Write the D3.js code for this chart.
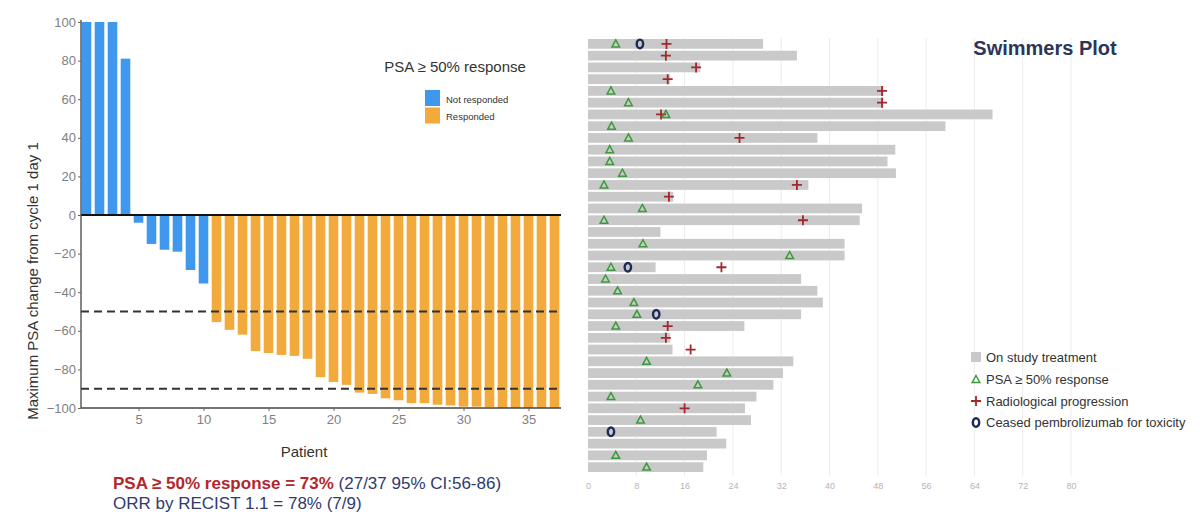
<!DOCTYPE html>
<html>
<head>
<meta charset="utf-8">
<script src="https://cdn.jsdelivr.net/npm/d3@7"></script>
<style>
  body { margin: 0; background: #fff; }
  svg { font-family: "Liberation Sans", Arial, sans-serif; }
</style>
</head>
<body>
<div id="chart"></div>
<script>
// ---- waterfall data (patient 1..37) ----
var psaChange = [100, 100, 100, 81, -4, -15, -18, -19, -28.5, -35.5,
  -55.5, -59.5, -62, -70.5, -71.5, -72.5, -73, -74.5, -84, -86.5,
  -88, -92, -92.7, -95, -96, -97.5, -97.5, -98.3, -98.7, -99.3,
  -99.3, -99.5, -100, -100, -100, -100, -100];
var yTicks = [100, 80, 60, 40, 20, 0, -20, -40, -60, -80, -100];
var xTicks = [5, 10, 15, 20, 25, 30, 35];
var thresholds = [-50, -90];
var groups = ["Not responded", "Responded"];
var groupColors = ["#3F97EE", "#F1AA3B"];

// ---- swimmer data (rows top to bottom) ----
var months = [29, 34.6, 18.6, 13.6, 48.9, 48.9, 67, 59.2, 38, 50.9,
  49.6, 51, 36.5, 14.1, 45.4, 45, 12, 42.5, 42.5, 11.2,
  35.3, 38, 38.9, 35.3, 25.9, 13.6, 14, 34, 32.3, 30.7,
  27.9, 26, 27, 21.3, 22.9, 19.7, 19.1];
var psaResponse = [[1, 4.6], [5, 3.8], [6, 6.7], [7, 12.9], [8, 3.9], [9, 6.7], [10, 3.6], [11, 3.6],
  [12, 5.7], [13, 2.65], [15, 9], [16, 2.65], [18, 9.1], [19, 33.4], [20, 3.8], [21, 2.9],
  [22, 4.9], [23, 7.6], [24, 8.1], [25, 4.6], [28, 9.7], [29, 23], [30, 18.2], [31, 3.8],
  [33, 8.7], [36, 4.6], [37, 9.7]];
var progression = [[1, 13], [2, 12.9], [3, 17.9], [4, 13.2], [5, 48.7], [6, 48.7], [7, 12.1],
  [9, 25.1], [13, 34.6], [14, 13.4], [16, 35.6], [20, 22.1], [25, 13.2], [26, 12.9],
  [27, 17], [32, 16]];
var toxicity = [[1, 8.6], [20, 6.6], [24, 11.3], [34, 3.8]];
var swimTicks = [0, 8, 16, 24, 32, 40, 48, 56, 64, 72, 80];
var swimLegend = ["On study treatment", "PSA \u2265 50% response", "Radiological progression", "Ceased pembrolizumab for toxicity"];

var svg = d3.select("#chart").append("svg")
  .attr("width", 1200)
  .attr("height", 528);

// ================= waterfall =================
var patients = d3.range(1, psaChange.length + 1);
var x = d3.scaleLinear().domain([0.5, 37.5]).range([80, 561]);
var y = d3.scaleLinear().domain([-100, 100]).range([408, 22]);
var color = d3.scaleOrdinal().domain(groups).range(groupColors);

var left = svg.append("g");

left.selectAll("rect.bar")
  .data(patients)
  .enter()
  .append("rect")
  .attr("class", "bar")
  .attr("x", d => x(d) - 4.8)
  .attr("width", 9.6)
  .attr("y", d => y(Math.max(0, psaChange[d - 1])))
  .attr("height", d => Math.abs(y(psaChange[d - 1]) - y(0)))
  .attr("fill", d => color(psaChange[d - 1] <= -50 ? groups[1] : groups[0]));

// dashed threshold lines
left.selectAll("line.thr")
  .data(thresholds)
  .enter()
  .append("line")
  .attr("x1", 81).attr("x2", 561)
  .attr("y1", d => y(d)).attr("y2", d => y(d))
  .attr("stroke", "#333")
  .attr("stroke-width", 2)
  .attr("stroke-dasharray", "8,5");

// zero line
left.append("line")
  .attr("x1", 81).attr("x2", 561)
  .attr("y1", y(0)).attr("y2", y(0))
  .attr("stroke", "#111").attr("stroke-width", 2);

// axes
var yAxis = left.append("g")
  .attr("transform", "translate(81,0)")
  .call(d3.axisLeft(y).tickValues(yTicks).tickSize(3).tickPadding(2));
var xAxis = left.append("g")
  .attr("transform", "translate(0,408)")
  .call(d3.axisBottom(x).tickValues(xTicks).tickSize(3).tickPadding(4));

[yAxis, xAxis].forEach(function(ax) {
  ax.select(".domain").attr("stroke", "#444").attr("stroke-width", 1.3);
  ax.selectAll(".tick line").attr("stroke", "#666");
  ax.selectAll(".tick text").attr("fill", "#808080").attr("font-size", 13)
    .attr("font-family", "Liberation Sans, Arial, sans-serif");
});
xAxis.select(".domain").attr("d", "M81,0H561");
yAxis.select(".domain").attr("d", "M0,20V408");

left.append("text")
  .attr("transform", "translate(38,281) rotate(-90)")
  .attr("text-anchor", "middle")
  .attr("font-size", 15)
  .attr("fill", "#333")
  .text("Maximum PSA change from cycle 1 day 1");

left.append("text")
  .attr("x", 304).attr("y", 457)
  .attr("text-anchor", "middle")
  .attr("font-size", 15)
  .attr("fill", "#333")
  .text("Patient");

// legend
var leg = left.append("g");
leg.append("text")
  .attr("x", 455).attr("y", 72)
  .attr("text-anchor", "middle")
  .attr("font-size", 15)
  .attr("fill", "#333")
  .text("PSA \u2265 50% response");
leg.selectAll("rect")
  .data(groups)
  .enter()
  .append("rect")
  .attr("x", 425)
  .attr("y", (d, i) => 90 + i * 17.5)
  .attr("width", 15).attr("height", 16)
  .attr("fill", d => color(d));
leg.selectAll("text.lab")
  .data(groups)
  .enter()
  .append("text")
  .attr("class", "lab")
  .attr("x", 446)
  .attr("y", (d, i) => 102.5 + i * 17.5)
  .attr("font-size", 9.5)
  .attr("fill", "#333")
  .text(d => d);

// summary text
var s1 = left.append("text").attr("x", 113).attr("y", 489).attr("font-size", 17);
s1.append("tspan").attr("fill", "#B3262A").attr("font-weight", "bold").text("PSA \u2265 50% response = 73%");
s1.append("tspan").attr("fill", "#2F3B6E").text(" (27/37 95% CI:56-86)");
left.append("text").attr("x", 113).attr("y", 509).attr("font-size", 17)
  .attr("fill", "#2F3B6E")
  .text("ORR by RECIST 1.1 = 78% (7/9)");

// ================= swimmers =================
var rows = d3.range(1, months.length + 1);
var sx = d3.scaleLinear().domain([0, 80]).range([588, 1071]);
var sy = d3.scaleBand().domain(rows).range([39, 472]).paddingInner(0.17);
var cy = d => sy(d) + sy.bandwidth() / 2;

var right = svg.append("g");

right.selectAll("line.grid")
  .data(swimTicks.slice(1))
  .enter()
  .append("line")
  .attr("x1", d => sx(d)).attr("x2", d => sx(d))
  .attr("y1", 38).attr("y2", 476)
  .attr("stroke", "#ececec").attr("stroke-width", 1);

right.selectAll("rect.swim")
  .data(rows)
  .enter()
  .append("rect")
  .attr("x", sx(0))
  .attr("y", d => sy(d))
  .attr("width", d => sx(months[d - 1]) - sx(0))
  .attr("height", sy.bandwidth())
  .attr("fill", "#C9C9C9");

var sAxis = right.append("g")
  .attr("transform", "translate(0,478)")
  .call(d3.axisBottom(sx).tickValues(swimTicks).tickSize(0).tickPadding(5));
sAxis.select(".domain").remove();
sAxis.selectAll(".tick text").attr("fill", "#b5b5b5").attr("font-size", 9)
  .attr("font-family", "Liberation Sans, Arial, sans-serif");

function triangle(g) {
  g.append("path").attr("d", "M0,-4L3.8,3L-3.8,3Z")
    .attr("fill", "none").attr("stroke", "#3C9A3C").attr("stroke-width", 1.5);
}
function plus(g) {
  g.append("path").attr("d", "M-5,0H5M0,-5V5")
    .attr("stroke", "#A3282C").attr("stroke-width", 1.8);
}
function ring(g) {
  g.append("ellipse").attr("rx", 3.2).attr("ry", 4.3)
    .attr("fill", "none").attr("stroke", "#1E2B56").attr("stroke-width", 2.4);
}

right.selectAll("g.prog").data(progression).enter().append("g")
  .attr("transform", d => `translate(${sx(d[1])},${cy(d[0])})`)
  .each(function() { plus(d3.select(this)); });
right.selectAll("g.psa").data(psaResponse).enter().append("g")
  .attr("transform", d => `translate(${sx(d[1])},${cy(d[0])})`)
  .each(function() { triangle(d3.select(this)); });
right.selectAll("g.tox").data(toxicity).enter().append("g")
  .attr("transform", d => `translate(${sx(d[1])},${cy(d[0])})`)
  .each(function() { ring(d3.select(this)); });

right.append("text")
  .attr("x", 1045).attr("y", 55)
  .attr("text-anchor", "middle")
  .attr("font-size", 20).attr("font-weight", "bold")
  .attr("fill", "#2D3557")
  .text("Swimmers Plot");

// swimmer legend
var sl = right.append("g");
var legY = [357, 379.5, 401, 422.5];
sl.append("rect").attr("x", 971).attr("y", legY[0] - 5).attr("width", 10).attr("height", 10).attr("fill", "#C9C9C9");
triangle(sl.append("g").attr("transform", `translate(976,${legY[1]})`));
plus(sl.append("g").attr("transform", `translate(976,${legY[2]})`));
ring(sl.append("g").attr("transform", `translate(976,${legY[3]})`));
sl.selectAll("text")
  .data(swimLegend)
  .enter()
  .append("text")
  .attr("x", 986)
  .attr("y", (d, i) => legY[i] + 4.5)
  .attr("font-size", 13)
  .attr("fill", "#333")
  .text(d => d);
</script>
</body>
</html>
